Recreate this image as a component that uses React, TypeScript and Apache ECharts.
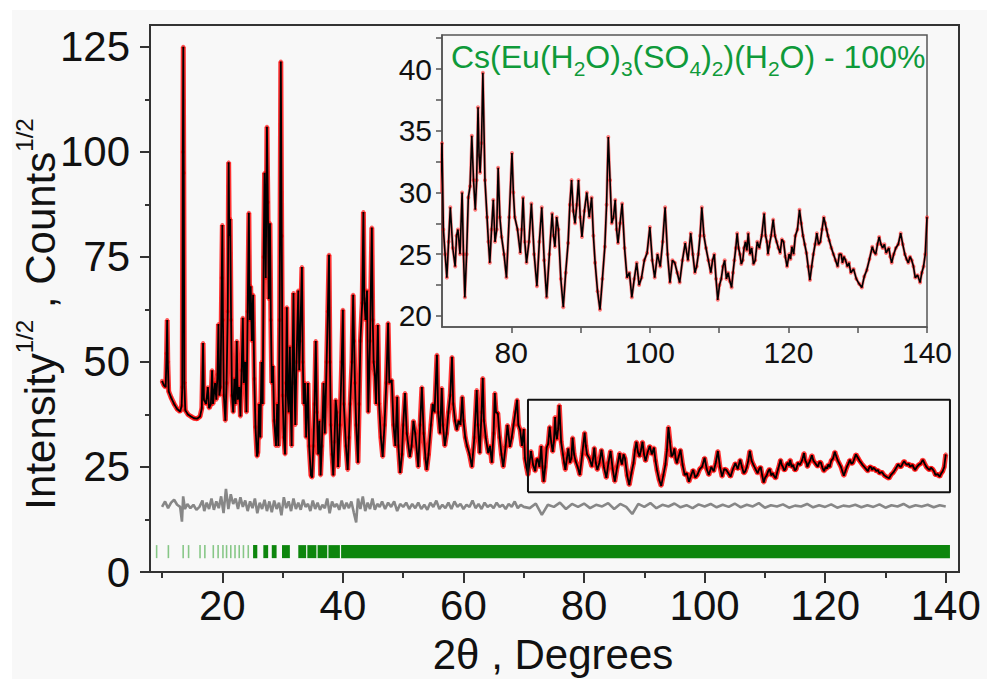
import React, { useEffect, useRef } from 'react';
import * as echarts from 'echarts';

const FONT = '"Liberation Sans", Arial, Helvetica, sans-serif';
const BG = '#f8f8f8';

// Calculated / observed profile (2θ, Intensity^1/2)
const profile: [number, number][] = [
  [10.0, 45.5], [10.3, 44.5], [10.6, 44.0], [10.75, 52], [10.85, 60], [10.95, 50], [11.1, 43], [11.5, 41.5],
  [12.0, 40], [12.5, 38.8], [13.0, 38.2], [13.25, 39.5], [13.35, 44], [13.45, 100], [13.52, 125], [13.6, 95],
  [13.7, 45], [13.85, 38.5], [14.3, 37.5], [14.8, 37], [15.3, 36.6], [15.8, 36.5], [16.3, 37], [16.6, 39],
  [16.8, 54.5], [16.95, 41], [17.3, 40], [17.6, 44], [17.8, 39], [18.1, 40], [18.3, 48], [18.45, 40],
  [18.8, 45], [19.0, 41], [19.2, 47], [19.35, 59], [19.5, 42], [19.7, 44], [19.9, 70], [20.0, 82.6],
  [20.1, 60], [20.25, 42], [20.5, 36], [20.7, 45], [20.9, 62], [21.05, 97.5], [21.15, 80], [21.3, 84],
  [21.45, 60], [21.6, 42], [21.8, 38], [22.0, 46], [22.2, 40], [22.4, 55], [22.55, 41], [22.8, 44],
  [23.0, 37], [23.2, 48], [23.4, 60.5], [23.55, 45], [23.8, 50], [24.0, 38], [24.2, 62], [24.4, 85.5],
  [24.55, 60], [24.7, 68], [24.9, 55], [25.1, 66], [25.3, 46], [25.5, 34.5], [25.75, 27.5], [25.9, 28.5],
  [26.1, 40], [26.3, 32], [26.5, 50], [26.7, 40], [26.85, 75], [27.0, 95], [27.2, 70], [27.4, 106],
  [27.55, 88], [27.7, 65], [27.9, 83], [28.05, 60], [28.2, 45], [28.4, 49], [28.6, 36], [28.9, 30],
  [29.1, 40], [29.3, 30], [29.5, 60], [29.7, 121.5], [29.85, 80], [30.0, 42], [30.2, 32], [30.4, 28],
  [30.55, 45], [30.7, 63], [30.85, 42], [31.0, 38], [31.2, 53.6], [31.35, 38], [31.5, 30], [31.6, 45],
  [31.8, 66.4], [31.95, 45], [32.1, 35], [32.3, 50], [32.6, 67], [32.75, 48], [32.9, 55], [33.2, 72.6],
  [33.35, 50], [33.5, 40], [33.7, 45], [33.9, 32], [34.2, 45], [34.4, 30], [34.7, 23], [34.9, 22.5],
  [35.1, 30], [35.3, 40], [35.5, 55], [35.7, 38], [35.9, 28], [36.1, 36], [36.3, 23], [36.5, 30],
  [36.8, 45], [37.0, 33], [37.3, 50], [37.5, 62], [37.7, 75.5], [37.85, 50], [38.0, 35], [38.2, 28],
  [38.4, 23], [38.6, 31], [38.8, 41], [39.0, 38], [39.2, 25], [39.5, 35], [39.8, 50], [40.0, 62.4],
  [40.15, 40], [40.5, 30], [40.8, 24.3], [41.0, 32], [41.2, 40], [41.5, 50], [41.7, 66], [41.85, 55],
  [42.0, 45], [42.2, 35], [42.5, 26], [42.7, 40], [42.9, 55], [43.2, 64], [43.4, 85.7], [43.55, 65],
  [43.75, 60], [44.0, 67], [44.2, 38], [44.5, 55], [44.8, 82], [44.95, 60], [45.1, 50], [45.3, 47],
  [45.5, 40], [45.8, 58.8], [46.0, 40], [46.3, 32], [46.6, 27.4], [46.9, 35], [47.2, 45], [47.5, 59.3],
  [47.7, 45], [48.1, 45.7], [48.4, 35], [48.7, 30], [49.0, 41.7], [49.2, 30], [49.5, 23.6], [49.8, 28],
  [50.0, 35], [50.3, 42.6], [50.6, 33], [51.1, 27.4], [51.4, 30], [51.7, 36], [52.0, 33], [52.5, 25],
  [52.8, 35], [53.1, 44], [53.4, 33], [53.7, 27], [53.9, 24.3], [54.2, 28], [54.6, 35], [54.9, 40],
  [55.2, 38], [55.6, 51.7], [55.8, 38], [56.1, 33], [56.4, 43.8], [56.6, 35], [56.9, 30], [57.2, 33],
  [57.5, 38], [57.8, 42], [58.1, 51.2], [58.3, 40], [58.6, 36], [58.9, 33.8], [59.2, 36], [59.5, 35],
  [59.8, 41.7], [60.0, 36], [60.3, 32], [60.6, 30], [61.0, 28], [61.4, 25], [61.8, 32], [62.2, 43.3],
  [62.4, 35], [62.7, 28.3], [63.0, 38], [63.2, 46.2], [63.4, 36], [63.7, 32], [64.1, 28.3], [64.4, 30],
  [64.7, 26], [65.0, 33], [65.2, 42.6], [65.4, 38], [65.7, 37.8], [66.0, 32], [66.3, 28], [66.6, 25],
  [67.0, 30], [67.3, 35], [67.7, 29.8], [68.0, 32], [68.3, 35], [68.6, 38], [68.9, 41], [69.1, 35],
  [69.4, 33.8], [69.7, 30], [70.0, 34], [70.2, 27], [70.45, 25], [70.7, 23.1], [70.95, 26], [71.2, 28.8],
  [71.55, 25.5], [71.9, 24], [72.1, 26.5], [72.3, 27], [72.6, 25], [72.9, 30], [73.1, 25], [73.3, 21.5],
  [73.55, 25], [73.8, 29.6], [74.05, 30.5], [74.3, 34.6], [74.55, 31], [74.8, 28.6], [75.0, 31], [75.2, 36.9],
  [75.35, 33], [75.5, 31.6], [75.7, 34], [75.9, 39.7], [76.2, 31], [76.5, 28], [76.7, 26], [76.9, 24.3],
  [77.15, 27], [77.4, 29.4], [77.65, 26], [77.9, 27], [78.1, 32], [78.35, 28], [78.6, 26.4], [78.95, 25],
  [79.3, 23.1], [79.7, 28], [80.1, 33.2], [80.3, 30], [80.5, 28], [80.9, 27], [81.3, 25.1], [81.5, 27],
  [81.7, 29.6], [81.95, 26], [82.2, 24.3], [82.55, 26], [82.9, 29.1], [83.3, 25], [83.7, 22.4], [84.05, 26],
  [84.4, 28.8], [84.75, 24.5], [85.1, 21.5], [85.5, 25], [85.9, 28.3], [86.1, 26.5], [86.3, 25.6], [86.55, 28],
  [86.8, 27], [87.15, 23], [87.5, 20.7], [87.85, 23.5], [88.2, 25.9], [88.45, 29], [88.7, 31], [88.95, 28.5],
  [89.2, 27.5], [89.45, 29], [89.7, 31], [89.95, 28], [90.2, 26.4], [90.55, 28.5], [90.9, 30], [91.25, 28],
  [91.6, 29.6], [91.85, 26.5], [92.1, 24.3], [92.45, 22], [92.8, 20.5], [93.15, 23], [93.5, 25.6], [93.75, 29],
  [94.0, 34.5], [94.25, 31], [94.5, 27.5], [94.75, 28], [95.0, 29.4], [95.2, 27], [95.4, 25.9], [95.7, 27.5],
  [96.0, 29.1], [96.35, 25.5], [96.7, 23.1], [97.05, 23.5], [97.4, 21.5], [97.75, 23], [98.1, 24.3], [98.45, 22.5],
  [98.8, 23.1], [99.2, 24.5], [99.6, 25.1], [100.0, 27.2], [100.35, 24.5], [100.7, 23.1], [101.1, 25], [101.5, 24],
  [101.85, 26], [102.2, 28.8], [102.55, 25], [102.9, 22.7], [103.25, 24.5], [103.6, 24.3], [103.95, 23.5], [104.3, 22.7],
  [104.7, 24.5], [105.1, 25.9], [105.5, 24.5], [105.9, 26.7], [106.2, 25], [106.5, 23.5], [106.75, 24], [107.0, 25],
  [107.25, 26.5], [107.5, 28.8], [107.8, 26.5], [108.1, 25.5], [108.45, 24.5], [108.8, 23.5], [109.05, 24.5], [109.3, 25],
  [109.55, 23], [109.8, 21.3], [110.05, 22.5], [110.3, 23], [110.55, 24], [110.8, 24.5], [111.05, 23], [111.3, 23.5],
  [111.55, 22.8], [111.8, 22.3], [112.0, 23.5], [112.2, 24.5], [112.4, 25.5], [112.6, 26.7], [112.8, 25.5], [113.0, 25],
  [113.2, 24.2], [113.4, 24.5], [113.6, 25.5], [113.8, 26], [114.0, 25.3], [114.2, 26.7], [114.45, 25], [114.7, 25.5],
  [114.95, 24.2], [115.2, 24.5], [115.5, 26], [115.8, 25.5], [116.15, 26.5], [116.5, 28.3], [116.7, 26.5], [116.9, 26],
  [117.05, 25], [117.2, 25.6], [117.5, 26.5], [117.8, 27.8], [118.05, 26.5], [118.3, 26], [118.55, 25.5], [118.8, 25.1],
  [119.05, 26.2], [119.3, 26], [119.55, 24.8], [119.8, 24], [120.1, 25], [120.3, 24.6], [120.5, 25.6], [120.75, 25],
  [121.0, 26.5], [121.3, 27], [121.6, 28.6], [121.85, 27.5], [122.1, 26.5], [122.35, 25.8], [122.6, 25.1], [122.85, 24],
  [123.1, 22.9], [123.35, 24], [123.6, 25], [123.85, 25.8], [124.1, 26.7], [124.35, 25.8], [124.6, 26], [124.85, 27],
  [125.1, 28], [125.3, 27.5], [125.5, 27], [125.7, 26.5], [125.9, 26.1], [126.2, 25.5], [126.5, 25], [126.8, 24.5],
  [127.1, 24], [127.35, 25], [127.6, 25], [127.8, 24.3], [128.0, 24.8], [128.25, 24.5], [128.5, 24], [128.75, 24.3],
  [129.0, 23.5], [129.4, 23.8], [129.8, 23], [130.2, 22.6], [130.6, 22.3], [130.95, 23.2], [131.3, 23.7], [131.7, 24.6],
  [132.1, 25.6], [132.35, 25.2], [132.6, 25], [132.85, 25.8], [133.1, 26.4], [133.35, 25.8], [133.6, 25.5], [133.85, 25.8],
  [134.1, 25.1], [134.3, 25.3], [134.5, 25.5], [134.7, 24.8], [134.9, 24.3], [135.2, 25], [135.5, 25.5], [135.85, 25.8],
  [136.2, 26.7], [136.5, 25.8], [136.8, 25], [137.05, 24.6], [137.3, 24.3], [137.55, 24.8], [137.8, 24.5], [138.05, 24],
  [138.3, 23.1], [138.65, 23.3], [139.0, 22.7], [139.25, 23.5], [139.5, 24], [139.75, 25], [140.0, 28],
];

// Difference curve (Obs - Calc, offset)
const difference: [number, number][] = [
  [10.0, 15.5], [10.5, 16.8], [11.0, 15.2], [11.5, 16.5], [12.0, 17.2], [12.5, 16.0], [13.0, 15.5], [13.3, 12.0],
  [13.5, 18.0], [13.8, 15.0], [14.2, 16.2], [14.7, 15.2], [15.2, 16.0], [15.7, 14.8], [16.2, 15.5], [16.7, 17.0],
  [17.0, 14.5], [17.4, 16.5], [17.8, 15.0], [18.2, 17.5], [18.6, 14.8], [19.0, 16.8], [19.4, 15.2], [19.8, 18.0],
  [20.2, 14.0], [20.6, 19.8], [21.0, 15.0], [21.4, 18.5], [21.8, 16.2], [22.2, 17.5], [22.6, 15.0], [23.0, 17.8],
  [23.4, 15.5], [23.8, 17.0], [24.2, 14.5], [24.6, 16.8], [25.0, 15.2], [25.4, 17.5], [25.8, 14.0], [26.2, 16.5],
  [26.6, 15.0], [27.0, 17.2], [27.4, 14.5], [27.8, 16.8], [28.2, 14.2], [28.6, 17.0], [29.0, 15.0], [29.4, 16.5],
  [29.8, 13.5], [30.2, 17.8], [30.6, 15.2], [31.0, 16.8], [31.4, 14.5], [31.8, 17.5], [32.2, 15.0], [32.6, 16.5],
  [33.0, 14.8], [33.4, 17.2], [33.8, 15.5], [34.2, 16.2], [34.6, 14.5], [35.0, 17.0], [35.4, 15.0], [35.8, 16.5],
  [36.2, 14.8], [36.6, 16.0], [37.0, 15.2], [37.4, 17.5], [37.8, 14.0], [38.2, 16.8], [38.6, 15.5], [39.0, 16.2],
  [39.4, 14.8], [39.8, 17.0], [40.2, 15.0], [40.6, 16.5], [41.0, 15.2], [41.4, 16.8], [41.8, 14.2], [42.2, 11.8],
  [42.5, 17.5], [42.9, 15.0], [43.3, 18.0], [43.7, 14.5], [44.1, 16.5], [44.5, 15.0], [44.9, 17.5], [45.3, 14.8],
  [45.7, 16.2], [46.1, 15.5], [46.5, 16.8], [47.0, 15.0], [47.5, 16.5], [48.0, 15.5], [48.5, 16.8], [49.0, 14.5],
  [49.5, 16.2], [50.0, 15.5], [50.5, 16.5], [51.0, 15.0], [51.5, 16.2], [52.0, 15.2], [52.5, 16.5], [53.0, 15.0],
  [53.5, 16.0], [54.0, 14.8], [54.5, 16.5], [55.0, 15.5], [55.5, 17.0], [56.0, 15.0], [56.5, 16.0], [57.0, 15.2],
  [57.5, 16.5], [58.0, 15.0], [58.5, 16.8], [59.0, 15.5], [59.5, 16.2], [60.0, 15.0], [60.5, 16.0], [61.0, 15.5],
  [61.5, 17.0], [62.0, 15.2], [62.5, 16.2], [63.0, 15.0], [63.5, 16.5], [64.0, 15.5], [64.5, 16.0], [65.0, 15.2],
  [65.5, 16.5], [66.0, 15.5], [66.5, 16.0], [67.0, 15.0], [67.5, 16.2], [68.0, 15.5], [68.5, 16.8], [69.0, 15.2],
  [69.5, 16.0], [70.0, 15.5], [71.0, 15.2], [72.0, 16.3], [73.0, 13.6], [74.0, 16.0], [75.0, 15.5], [76.0, 16.5],
  [77.0, 15.0], [78.0, 16.2], [79.0, 15.5], [80.0, 16.3], [81.0, 15.2], [82.0, 16.0], [83.0, 15.6], [84.0, 16.4],
  [85.0, 15.0], [86.0, 16.2], [87.0, 15.5], [88.0, 13.8], [89.0, 16.2], [90.0, 15.5], [91.0, 16.4], [92.0, 15.2],
  [93.0, 16.0], [94.0, 15.6], [95.0, 16.3], [96.0, 15.4], [97.0, 15.9], [98.0, 15.2], [99.0, 16.1], [100.0, 15.6],
  [101.0, 16.2], [102.0, 15.4], [103.0, 16.0], [104.0, 15.5], [105.0, 16.3], [106.0, 15.4], [107.0, 16.0], [108.0, 15.6],
  [109.0, 16.4], [110.0, 15.3], [111.0, 15.9], [112.0, 15.6], [113.0, 16.1], [114.0, 15.3], [115.0, 15.8], [116.0, 15.6],
  [117.0, 16.2], [118.0, 15.4], [119.0, 15.9], [120.0, 15.5], [121.0, 16.1], [122.0, 15.3], [123.0, 15.8], [124.0, 15.6],
  [125.0, 16.0], [126.0, 15.4], [127.0, 15.9], [128.0, 15.5], [129.0, 16.1], [130.0, 15.3], [131.0, 15.9], [132.0, 15.6],
  [133.0, 16.2], [134.0, 15.4], [135.0, 15.9], [136.0, 15.6], [137.0, 16.0], [138.0, 15.4], [139.0, 15.9], [140.0, 15.6],
];

// Bragg reflection markers
const reflectionLines = [9.1, 11.05, 13.5, 14.4, 16.3, 17.1, 18.5, 19.3, 20.1, 20.7, 21.4, 22.1, 22.8, 23.5, 24.3];
const reflectionBands: [number, number][] = [
  [25.1, 25.8], [26.8, 27.6], [28.2, 29.0], [29.9, 31.2], [32.6, 33.9], [34.1, 35.6], [35.8, 37.4], [37.6, 39.5], [39.7, 140.7],
];
const tickBar = { low: 3.3, high: 6.4 };

const mainXLabels = [20, 40, 60, 80, 100, 120, 140];
const mainXMinor = [10, 30, 50, 70, 90, 110, 130];
const mainYLabels = [0, 25, 50, 75, 100, 125];
const mainYMinor = [12.5, 37.5, 62.5, 87.5, 112.5];
const insetXLabels = [80, 100, 120, 140];
const insetXTicks = [80, 90, 100, 110, 120, 130, 140];
const insetYLabels = [20, 25, 30, 35, 40];
const insetYTicks = [20, 22.5, 25, 27.5, 30, 32.5, 35, 37.5, 40, 42.5];
const zoomBox = { x0: 70.7, x1: 140.7, y0: 19, y1: 41 };

function measure(text: string, size: number): number {
  const ctx = document.createElement('canvas').getContext('2d');
  if (!ctx) return text.length * size * 0.55;
  ctx.font = `${size}px ${FONT}`;
  return ctx.measureText(text).width;
}

type Seg = { t?: string; s: number; base?: number; gap?: number };
function segText(segs: Seg[], color: string, center: boolean) {
  const widths = segs.map((sg) => (sg.t ? measure(sg.t, sg.s) : (sg.gap || 0)));
  const total = widths.reduce((a, b) => a + b, 0);
  let cx = center ? -total / 2 : 0;
  const out: any[] = [];
  segs.forEach((sg, i) => {
    if (sg.t) {
      out.push({
        type: 'text',
        x: cx,
        y: (sg.base || 0) - 0.35 * sg.s,
        silent: true,
        z: 100,
        style: {
          text: sg.t,
          fontSize: sg.s,
          fontFamily: FONT,
          fill: color,
          textAlign: 'left',
          verticalAlign: 'middle',
          textVerticalAlign: 'middle',
        },
      });
    }
    cx += widths[i];
  });
  return out;
}

export default function App() {
  const ref = useRef<HTMLDivElement>(null);
  useEffect(() => {
    if (!ref.current) return;
    const chart = echarts.init(ref.current, null, { renderer: 'svg' });

    const tickData = [
      ...reflectionLines.map((x) => [x - 0.13, x + 0.13, 0]),
      ...reflectionBands.map(([a, b]) => [a, b, 1]),
    ];
    const boxData = [
      [zoomBox.x0, zoomBox.y0], [zoomBox.x1, zoomBox.y0], [zoomBox.x1, zoomBox.y1], [zoomBox.x0, zoomBox.y1], [zoomBox.x0, zoomBox.y0],
    ];

    const axisColor = '#333';
    const insetAxisColor = '#555';
    const sp = 11.7; // width of a space at 42px

    const option: any = {
      animation: false,
      backgroundColor: '#ffffff',
      graphic: [
        { type: 'rect', z: -10, silent: true, shape: { x: 12, y: 10, width: 975, height: 669 }, style: { fill: BG } },
        {
          type: 'group', x: 55, y: 314, rotation: Math.PI / 2, z: 100,
          children: segText([
            { t: 'Intensity', s: 42 },
            { t: '1/2', s: 24, base: -22 },
            { gap: sp },
            { t: ',', s: 42 },
            { gap: sp },
            { t: 'Counts', s: 42 },
            { t: '1/2', s: 24, base: -22 },
          ], '#111', true),
        },
        {
          type: 'group', x: 553, y: 669, z: 100,
          children: segText([{ t: '2θ , Degrees', s: 42 }], '#111', true),
        },
        {
          type: 'group', x: 451, y: 68, z: 100,
          children: segText([
            { t: 'Cs(Eu(H', s: 32 }, { t: '2', s: 21, base: 8 }, { t: 'O)', s: 32 }, { t: '3', s: 21, base: 8 },
            { t: '(SO', s: 32 }, { t: '4', s: 21, base: 8 }, { t: ')', s: 32 }, { t: '2', s: 21, base: 8 },
            { t: ')(H', s: 32 }, { t: '2', s: 21, base: 8 }, { t: 'O) - 100%', s: 32 },
          ], '#0f9a3a', false),
        },
      ],
      grid: [
        { left: 150, top: 25, width: 809, height: 547, show: true, borderColor: axisColor, borderWidth: 2, backgroundColor: 'transparent', outerBoundsMode: 'none', containLabel: false },
        { left: 442, top: 35, width: 485, height: 292, show: true, borderColor: insetAxisColor, borderWidth: 1.5, backgroundColor: BG, outerBoundsMode: 'none', containLabel: false },
      ],
      xAxis: [
        {
          gridIndex: 0, type: 'value', min: 8, max: 142.2, position: 'bottom',
          axisLine: { show: true, onZero: false, lineStyle: { color: axisColor, width: 2 } },
          axisTick: { show: true, customValues: mainXLabels, length: 11, lineStyle: { color: axisColor, width: 2 } },
          axisLabel: { show: true, customValues: mainXLabels, fontSize: 42, fontFamily: FONT, color: '#111', margin: 12 },
          splitLine: { show: false },
        },
        {
          gridIndex: 0, type: 'value', min: 8, max: 142.2, position: 'bottom',
          axisLine: { show: false },
          axisTick: { show: true, customValues: mainXMinor, length: 6, lineStyle: { color: axisColor, width: 2 } },
          axisLabel: { show: false },
          splitLine: { show: false },
        },
        {
          gridIndex: 1, type: 'value', min: 70, max: 140, position: 'bottom',
          axisLine: { show: true, onZero: false, lineStyle: { color: insetAxisColor, width: 1.5 } },
          axisTick: { show: true, customValues: insetXTicks, length: 6, lineStyle: { color: insetAxisColor, width: 1.5 } },
          axisLabel: { show: true, customValues: insetXLabels, fontSize: 30, fontFamily: FONT, color: '#111', margin: 10 },
          splitLine: { show: false },
        },
      ],
      yAxis: [
        {
          gridIndex: 0, type: 'value', min: 0, max: 130.2, position: 'left',
          axisLine: { show: true, onZero: false, lineStyle: { color: axisColor, width: 2 } },
          axisTick: { show: true, customValues: mainYLabels, length: 10, lineStyle: { color: axisColor, width: 2 } },
          axisLabel: { show: true, customValues: mainYLabels, fontSize: 42, fontFamily: FONT, color: '#111', margin: 20 },
          splitLine: { show: false },
        },
        {
          gridIndex: 0, type: 'value', min: 0, max: 130.2, position: 'left',
          axisLine: { show: false },
          axisTick: { show: true, customValues: mainYMinor, length: 5, lineStyle: { color: axisColor, width: 2 } },
          axisLabel: { show: false },
          splitLine: { show: false },
        },
        {
          gridIndex: 1, type: 'value', min: 19.1, max: 42.76, position: 'left',
          axisLine: { show: true, onZero: false, lineStyle: { color: insetAxisColor, width: 1.5 } },
          axisTick: { show: true, customValues: insetYTicks, length: 6, lineStyle: { color: insetAxisColor, width: 1.5 } },
          axisLabel: { show: true, customValues: insetYLabels, fontSize: 30, fontFamily: FONT, color: '#111', margin: 10 },
          splitLine: { show: false },
        },
      ],
      series: [
        {
          type: 'line', xAxisIndex: 0, yAxisIndex: 0, data: difference, showSymbol: false, silent: true,
          lineStyle: { color: '#878787', width: 2.6 }, z: 2,
        },
        {
          type: 'custom', xAxisIndex: 0, yAxisIndex: 0, data: tickData, silent: true, clip: false, z: 2,
          encode: { x: [0, 1] },
          renderItem: (_params: any, api: any) => {
            const a = api.value(0);
            const b = api.value(1);
            const strong = api.value(2);
            const p0 = api.coord([a, tickBar.high]);
            const p1 = api.coord([b, tickBar.low]);
            return {
              type: 'rect',
              shape: { x: p0[0], y: p0[1], width: Math.max(p1[0] - p0[0], 1.5), height: p1[1] - p0[1] },
              style: { fill: strong ? 'rgba(0,128,0,0.95)' : 'rgba(20,150,20,0.5)' },
            };
          },
        },
        {
          type: 'line', xAxisIndex: 0, yAxisIndex: 0, data: profile, showSymbol: false, silent: true,
          lineStyle: { color: 'rgba(255,0,0,0.8)', width: 5 }, z: 3,
        },
        {
          type: 'scatter', xAxisIndex: 0, yAxisIndex: 0, data: profile, symbolSize: 4, silent: true,
          itemStyle: { color: 'rgba(255,0,0,0.8)' }, z: 3,
        },
        {
          type: 'line', xAxisIndex: 0, yAxisIndex: 0, data: profile, showSymbol: false, silent: true,
          lineStyle: { color: '#000', width: 1.8 }, z: 4,
        },
        {
          type: 'line', xAxisIndex: 0, yAxisIndex: 0, data: boxData, showSymbol: false, silent: true,
          lineStyle: { color: '#111', width: 2 }, z: 5,
        },
        {
          type: 'line', xAxisIndex: 2, yAxisIndex: 2, data: profile, showSymbol: false, silent: true,
          lineStyle: { color: 'rgba(255,0,0,0.45)', width: 3 }, z: 6,
        },
        {
          type: 'scatter', xAxisIndex: 2, yAxisIndex: 2, data: profile, symbolSize: 4, silent: true,
          itemStyle: { color: 'rgba(255,30,30,0.7)' }, z: 6,
        },
        {
          type: 'line', xAxisIndex: 2, yAxisIndex: 2, data: profile, showSymbol: false, silent: true,
          lineStyle: { color: '#000', width: 1.6 }, z: 7,
        },
      ],
    };

    chart.setOption(option);
    return () => chart.dispose();
  }, []);

  return (
    <div
      ref={ref}
      style={{ position: 'absolute', left: 0, top: 0, width: 987, height: 679 }}
    />
  );
}
